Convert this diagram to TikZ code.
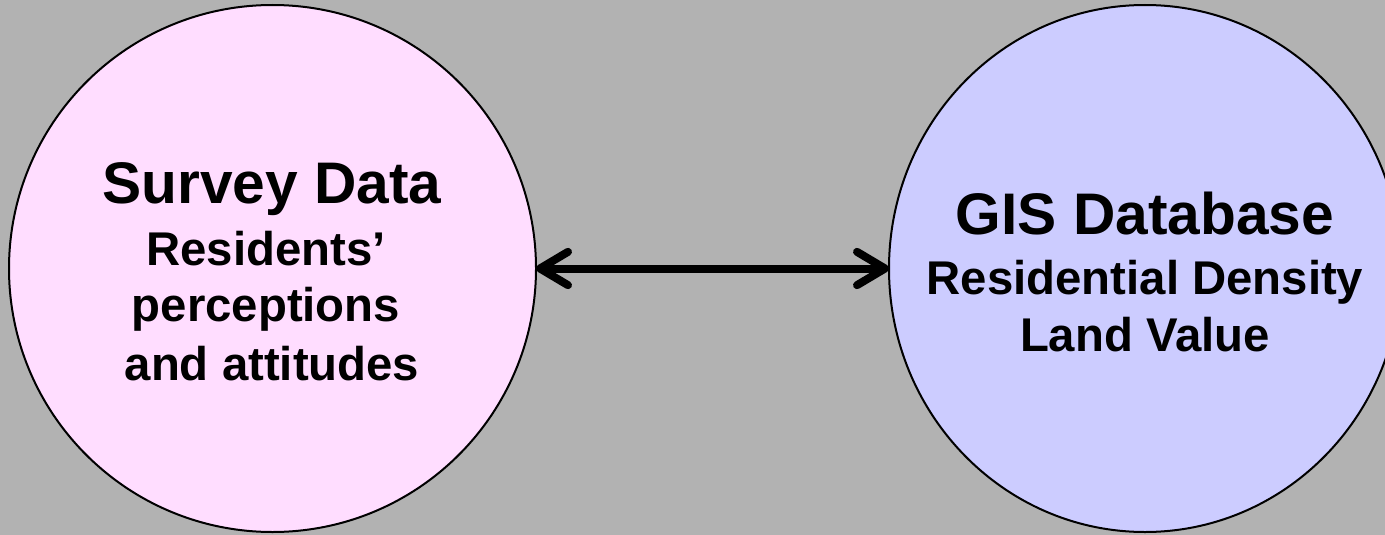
\documentclass[tikz,border=0pt]{standalone}
\usepackage{fontspec}
\setmainfont{Liberation Sans}
\usetikzlibrary{shapes.geometric,arrows.meta}
\definecolor{bggray}{RGB}{178,178,178}
\definecolor{pinkfill}{RGB}{255,221,255}
\definecolor{bluefill}{RGB}{204,204,255}
\tikzset{
  bubble/.style={draw=black, line width=1.5pt, outer sep=0pt, inner sep=0pt},
  title/.style={font=\fontsize{44}{53}\selectfont\bfseries, anchor=base, inner sep=0pt},
  sub/.style={font=\fontsize{35.5}{42}\selectfont\bfseries, anchor=base, inner sep=0pt},
  conn/.style={line width=6pt,
    {Straight Barb[length=21pt,width=25pt,line cap=round,line join=round]}-{Straight Barb[length=21pt,width=25pt,line cap=round,line join=round]}}
}
\begin{document}
\begin{tikzpicture}[x=0.75pt,y=-0.75pt]
\useasboundingbox (0,0) rectangle (1385,535);
\fill[bggray] (0,0) rectangle (1385,535);
\clip (0,0) rectangle (1385,535);
\node[bubble, circle, fill=pinkfill, minimum size=395.25pt] (L) at (272.5,268.5) {};
\node[bubble, ellipse, fill=bluefill, minimum width=384pt, minimum height=395.25pt] (R) at (1145,268.5) {};
\draw[conn] (L.east) -- (R.west);
\node[title] (l1) at (272,203) {Survey Data};
\node[sub] (l2) at (266,265) {Residents’};
\node[sub] (l3) at (266,321) {perceptions};
\node[sub] (l4) at (272,380) {and attitudes};
\node[title] (r1) at (1145,234) {GIS Database};
\node[sub] (r2) at (1145,294) {Residential Density};
\node[sub] (r3) at (1145,351) {Land Value};
\end{tikzpicture}
\end{document}
